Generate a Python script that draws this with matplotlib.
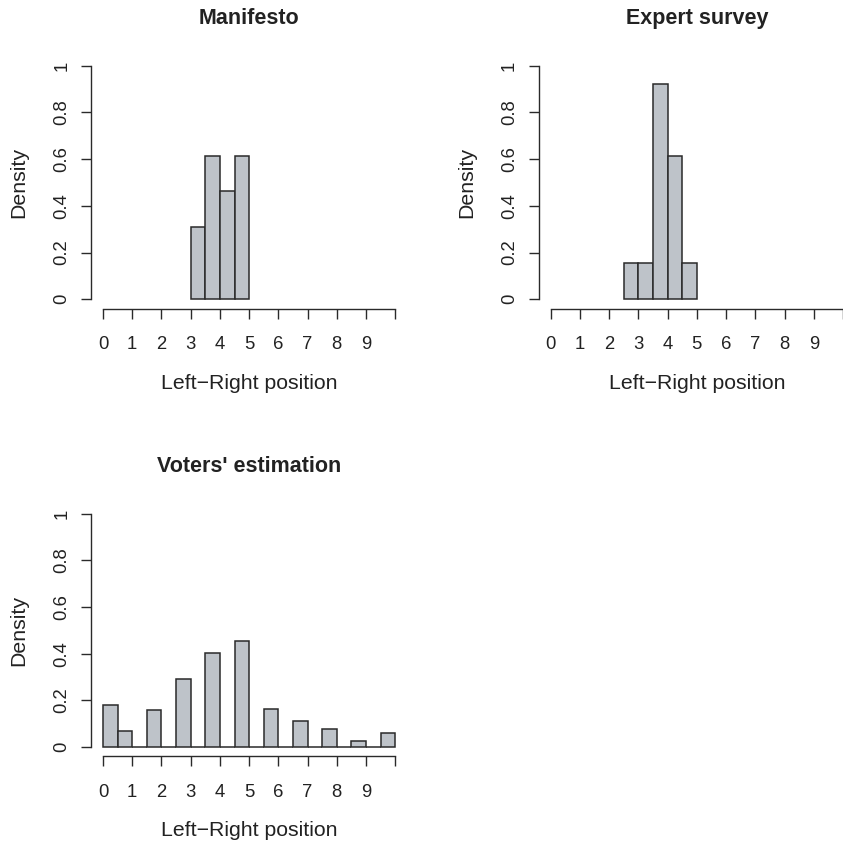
import matplotlib
matplotlib.use("Agg")
import matplotlib.pyplot as plt
import numpy as np

plt.rcParams['font.family'] = ['Liberation Sans', 'DejaVu Sans']

# ---- data ----
manifesto_edges = [3.0, 3.5, 4.0, 4.5, 5.0]
manifesto_density = [0.308, 0.615, 0.462, 0.615]

expert_edges = [2.5, 3.0, 3.5, 4.0, 4.5, 5.0]
expert_density = [0.154, 0.154, 0.923, 0.615, 0.154]

voters_edges = [0.0, 0.5, 1.0, 1.5, 2.0, 2.5, 3.0, 3.5, 4.0, 4.5, 5.0,
                5.5, 6.0, 6.5, 7.0, 7.5, 8.0, 8.5, 9.0, 9.5, 10.0]
voters_density = [0.179, 0.070, 0.0, 0.160, 0.0, 0.293, 0.0, 0.401, 0.0, 0.454,
                  0.0, 0.163, 0.0, 0.112, 0.0, 0.079, 0.0, 0.026, 0.0, 0.060]

titles = ["Manifesto", "Expert survey", "Voters' estimation"]
x_ticks = list(range(0, 11))
x_ticklabels = [str(i) for i in range(10)] + [""]
y_ticks = [0, 0.2, 0.4, 0.6, 0.8, 1.0]
y_ticklabels = ["0", "0.2", "0.4", "0.6", "0.8", "1"]
xlabel = "Left\u2212Right position"
ylabel = "Density"

FILL = "#bec3c9"
EDGE = "#2a2a2a"
TXT = "#222222"

W, H = 843, 844
fig = plt.figure(figsize=(W / 100, H / 100), dpi=100)

def px_axes(left, top, right, bottom):
    return [left / W, 1 - bottom / H, (right - left) / W, (bottom - top) / H]

positions = [
    px_axes(91.3, 56.4, 407.0, 308.6),
    px_axes(539.0, 56.4, 854.7, 308.6),
    px_axes(91.3, 504.4, 407.0, 756.3),
]
datasets = [
    (manifesto_edges, manifesto_density),
    (expert_edges, expert_density),
    (voters_edges, voters_density),
]

for pos, (edges, dens), title in zip(positions, datasets, titles):
    ax = fig.add_axes(pos)
    ax.set_facecolor("none")
    edges = np.asarray(edges)
    ax.bar(edges[:-1], dens, width=np.diff(edges), align='edge',
           color=FILL, edgecolor=EDGE, linewidth=1.1)
    ax.set_xlim(-0.4, 10.4)
    ax.set_ylim(-0.04, 1.04)
    for s in ['top', 'right']:
        ax.spines[s].set_visible(False)
    ax.spines['left'].set_bounds(0, 1)
    ax.spines['bottom'].set_bounds(0, 10)
    for s in ['left', 'bottom']:
        ax.spines[s].set_color(EDGE)
        ax.spines[s].set_linewidth(1.0)
    ax.set_xticks(x_ticks)
    ax.set_xticklabels(x_ticklabels)
    ax.set_yticks(y_ticks)
    ax.set_yticklabels(y_ticklabels, rotation=90, va='center')
    ax.tick_params(axis='both', length=7.2, width=1.0, color=EDGE,
                   labelsize=13.3, labelcolor=TXT)
    ax.tick_params(axis='x', pad=12.5)
    ax.tick_params(axis='y', pad=8)
    ax.set_title(title, fontsize=15.5, fontweight='bold', color=TXT, pad=23)
    ax.set_xlabel(xlabel, fontsize=15.3, color=TXT, labelpad=15)
    ax.set_ylabel(ylabel, fontsize=15.3, color=TXT, labelpad=18)

fig.savefig("out.png", dpi=100)
